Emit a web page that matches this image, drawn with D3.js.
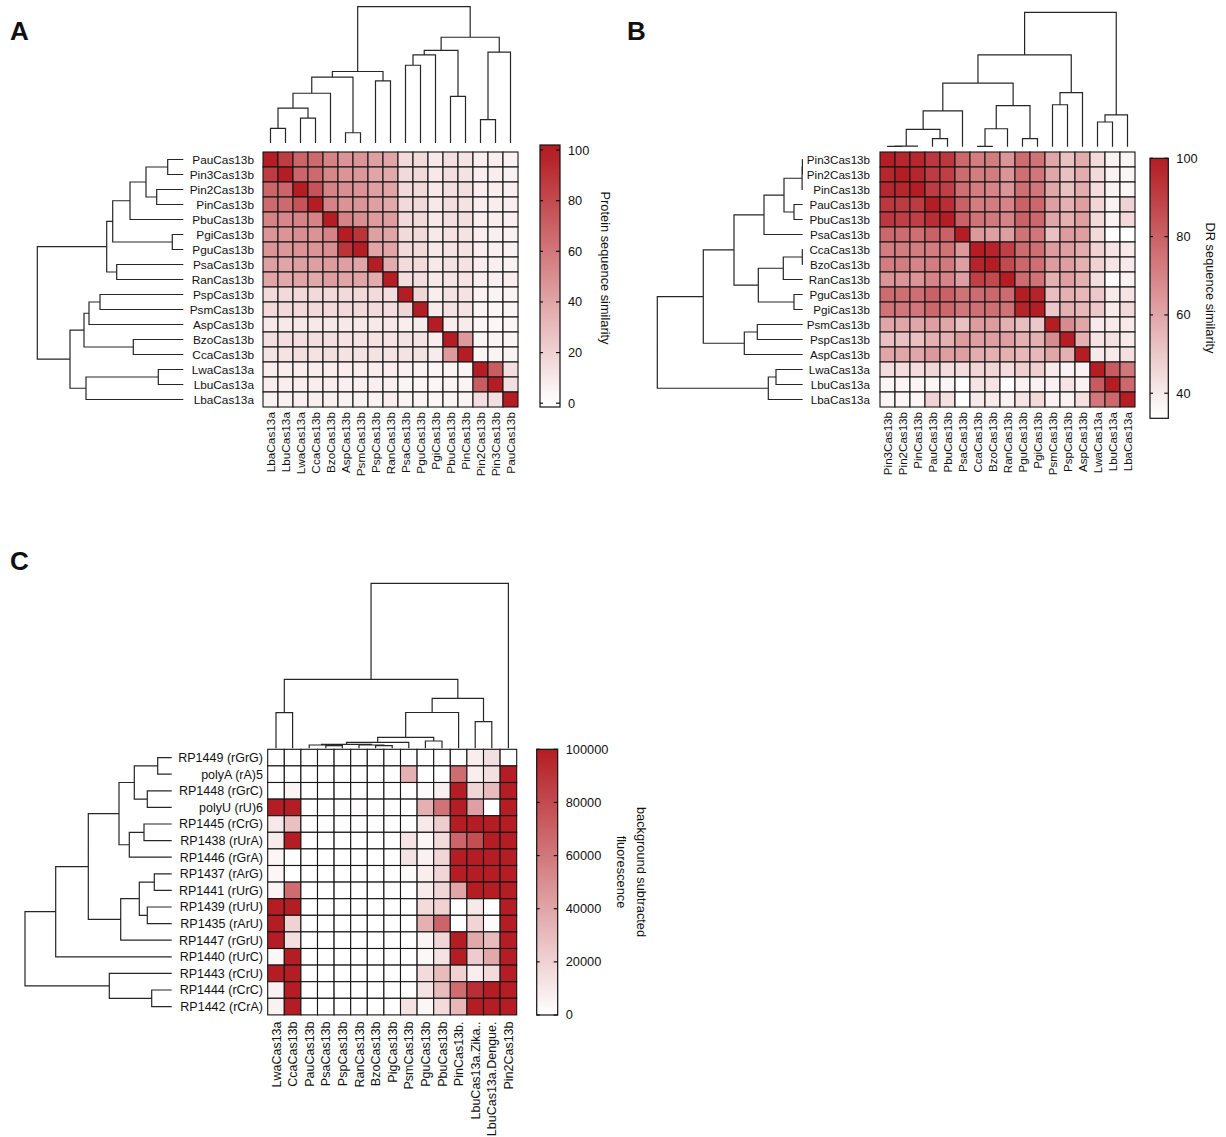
<!DOCTYPE html>
<html><head><meta charset="utf-8">
<script src="https://cdn.jsdelivr.net/npm/d3@7"></script>
<style>
body{margin:0;background:#fff}
text{font-family:"Liberation Sans",Arial,Helvetica,sans-serif;fill:#111}
</style>
</head><body>
<svg id="chart" width="1226" height="1137"></svg>
<script>
// ---------------- DATA ----------------
// Panel A
const rowsA = ["PauCas13b","Pin3Cas13b","Pin2Cas13b","PinCas13b","PbuCas13b","PgiCas13b","PguCas13b","PsaCas13b","RanCas13b","PspCas13b","PsmCas13b","AspCas13b","BzoCas13b","CcaCas13b","LwaCas13a","LbuCas13a","LbaCas13a"];
const colsA = ["LbaCas13a","LbuCas13a","LwaCas13a","CcaCas13b","BzoCas13b","AspCas13b","PsmCas13b","PspCas13b","RanCas13b","PsaCas13b","PguCas13b","PgiCas13b","PbuCas13b","PinCas13b","Pin2Cas13b","Pin3Cas13b","PauCas13b"];
const valuesA = [
 [100,86,68,66,55,47,47,42,40,17,17,10,14,13,8,8,6],
 [86,100,68,66,53,47,46,40,38,17,17,10,14,13,8,8,6],
 [68,68,100,76,55,50,48,42,40,17,17,10,14,14,8,8,7],
 [66,66,76,100,55,48,47,42,38,17,17,10,14,13,8,8,7],
 [55,53,55,55,100,55,50,44,43,17,17,10,14,14,8,8,7],
 [47,47,50,48,55,100,90,42,40,17,17,10,13,13,8,7,6],
 [47,46,48,47,50,90,100,40,40,17,17,10,13,13,8,7,6],
 [42,40,42,42,44,42,40,100,37,16,16,10,13,13,8,7,6],
 [40,38,40,38,43,40,40,37,100,15,15,10,12,12,8,7,8],
 [17,17,17,17,17,17,17,16,15,100,18,8,13,13,6,5,5],
 [17,17,17,17,17,17,17,16,15,18,100,9,13,13,5,4,5],
 [10,10,10,10,10,10,10,10,10,8,9,100,8,9,4,4,4],
 [14,14,14,14,14,13,13,13,12,13,13,8,100,45,5,5,5],
 [13,13,14,13,14,13,13,13,12,13,13,9,45,100,5,5,5],
 [8,8,8,8,8,8,8,8,8,6,5,4,5,5,100,72,15],
 [8,8,8,8,8,7,7,7,7,5,4,4,5,5,72,100,14],
 [6,6,7,7,7,6,6,6,8,5,5,4,5,5,15,14,100]
];
// hclust-style merges: negative = leaf (-1 is leaf 0), positive = earlier merge (1-based); third = height
const linkA = [
 [-1,-2,15.6],[-3,-4,26.6],[1,2,37.3],[3,-5,53.3],[-6,-7,11],[4,5,70.6],[-8,-9,66.6],[6,7,76.6],
 [-10,-11,83.3],[9,-12,94.3],[-13,-14,50],[10,11,99.3],[-15,-16,25],[13,-17,97.3],[12,14,113.3],[8,15,146]
];
const ticksA = [0,20,40,60,80,100];

// Panel B
const rowsB = ["Pin3Cas13b","Pin2Cas13b","PinCas13b","PauCas13b","PbuCas13b","PsaCas13b","CcaCas13b","BzoCas13b","RanCas13b","PguCas13b","PgiCas13b","PsmCas13b","PspCas13b","AspCas13b","LwaCas13a","LbuCas13a","LbaCas13a"];
const colsB = ["Pin3Cas13b","Pin2Cas13b","PinCas13b","PauCas13b","PbuCas13b","PsaCas13b","CcaCas13b","BzoCas13b","RanCas13b","PguCas13b","PgiCas13b","PsmCas13b","PspCas13b","AspCas13b","LwaCas13a","LbuCas13a","LbaCas13a"];
const valuesB = [
 [100,97,97,92,92,78,72,72,65,77,75,60,52,58,45,38,37],
 [97,100,97,91,90,77,72,72,65,76,74,60,52,58,45,38,37],
 [97,97,100,91,90,76,72,70,65,76,74,60,52,58,44,38,37],
 [92,91,91,100,95,80,72,72,70,80,78,62,57,62,46,38,47],
 [92,90,90,95,100,80,75,73,70,80,78,60,57,62,45,38,45],
 [78,77,76,80,80,100,64,62,62,75,74,52,63,62,45,34,34],
 [72,72,72,72,75,64,100,98,90,77,76,63,62,58,47,42,40],
 [72,72,70,72,73,62,98,100,87,78,76,63,62,57,47,42,40],
 [65,65,65,70,70,62,90,87,100,77,75,57,62,57,44,34,38],
 [77,76,76,80,80,75,77,78,77,100,98,53,57,55,50,40,42],
 [75,74,74,78,78,74,76,76,75,98,100,50,57,55,50,40,45],
 [60,60,60,62,60,52,63,63,57,53,50,100,68,60,40,40,40],
 [52,52,52,57,57,63,62,62,62,57,57,68,100,57,42,43,40],
 [60,60,60,64,62,62,58,57,57,55,55,60,57,100,40,40,43],
 [44,44,44,46,44,44,46,46,44,48,48,40,38,38,100,82,74],
 [37,37,37,37,37,34,42,42,34,38,38,38,42,38,82,100,78],
 [37,37,37,47,43,34,40,40,38,42,45,38,38,43,74,78,100]
];
const linkB = [
 [-1,-2,0.3],[1,-3,0.6],[-4,-5,8.7],[2,3,18.7],[4,-6,38.7],[-7,-8,0.4],[6,-9,19.4],[-10,-11,8.7],
 [7,8,44.4],[5,9,68.7],[-12,-13,45.4],[11,-14,58.4],[10,12,99.4],[-15,-16,26.7],[14,-17,34.4],[13,15,145.4]
];
const ticksB = [40,60,80,100];

// Panel C
const rowsC = ["RP1449 (rGrG)","polyA (rA)5","RP1448 (rGrC)","polyU (rU)6","RP1445 (rCrG)","RP1438 (rUrA)","RP1446 (rGrA)","RP1437 (rArG)","RP1441 (rUrG)","RP1439 (rUrU)","RP1435 (rArU)","RP1447 (rGrU)","RP1440 (rUrC)","RP1443 (rCrU)","RP1444 (rCrC)","RP1442 (rCrA)"];
const colsC = ["LwaCas13a","CcaCas13b","PauCas13b","PsaCas13b","PspCas13b","RanCas13b","BzoCas13b","PigCas13b","PsmCas13b","PguCas13b","PbuCas13b","PinCas13b.","LbuCas13a.Zika..","LbuCas13a.Dengue.","Pin2Cas13b"];
const valuesC = [
 [0,0,0,0,0,0,0,0,0,0,0,0,8000,14000,0],
 [0,0,0,0,0,0,0,0,35000,0,0,65000,8000,14000,100000],
 [0,5000,0,0,0,0,0,0,0,2000,7000,100000,18000,30000,100000],
 [100000,100000,1000,0,1000,1500,0,0,0,35000,62000,100000,42000,1000,100000],
 [10000,28000,0,0,0,0,0,0,0,10000,22000,100000,100000,100000,100000],
 [9000,100000,0,0,0,0,0,0,12000,4000,16000,68000,78000,100000,100000],
 [4000,1000,0,0,0,0,0,0,13000,6000,18000,100000,100000,100000,100000],
 [4000,0,0,0,0,0,0,0,2000,8000,18000,100000,100000,100000,100000],
 [5000,65000,0,0,0,0,0,0,0,9000,18000,40000,100000,100000,100000],
 [100000,100000,0,0,0,0,0,0,0,16000,20000,0,10000,0,100000],
 [100000,20000,1000,0,0,0,0,0,0,35000,68000,0,19000,2000,100000],
 [100000,14000,0,0,0,0,0,0,0,5000,18000,100000,38000,30000,100000],
 [4000,100000,0,0,0,0,0,0,0,3000,13000,100000,23000,38000,100000],
 [100000,100000,0,0,0,0,0,0,0,16000,30000,20000,8000,16000,100000],
 [6000,100000,0,0,0,0,0,0,0,13000,30000,65000,92000,100000,100000],
 [6000,100000,0,0,0,0,0,0,13000,4000,16000,32000,100000,100000,100000]
];
const linkCrows = [
 [-1,-2,14],[-3,-4,24.4],[1,2,37.4],[-5,-6,27.7],[4,-7,42.4],[3,5,52.7],[-8,-9,17.4],[-10,-11,24.4],
 [7,8,32.4],[9,-12,51],[6,10,83.4],[11,-13,116],[-15,-16,20],[-14,13,62.4],[12,14,146.7]
];
const linkCcols = [
 [-1,-2,35.6],[-4,-5,2.6],[-3,2,3.3],[-7,-8,2.6],[-6,4,3.3],[3,5,3.9],[6,-9,6],[-10,-11,7.3],
 [7,8,11],[9,-12,35.8],[-13,-14,26.6],[10,11,50],[1,12,69],[13,-15,165]
];
const ticksC = [0,20000,40000,60000,80000,100000];

// ---------------- DRAWING ----------------
const RED = "#b31d23";
const svg = d3.select("#chart");
const defs = svg.append("defs");

function heatmap(cfg){
  const g = svg.append("g");
  const x = d3.scaleBand().domain(d3.range(cfg.cols.length)).range([cfg.x, cfg.x + cfg.cw*cfg.cols.length]);
  const y = d3.scaleBand().domain(d3.range(cfg.rows.length)).range([cfg.y, cfg.y + cfg.ch*cfg.rows.length]);
  cfg.values.forEach((row,i)=>row.forEach((v,j)=>{
    g.append("rect").attr("x",x(j)).attr("y",y(i)).attr("width",x.bandwidth()).attr("height",y.bandwidth())
      .attr("fill",cfg.color(v)).attr("stroke","#151515").attr("stroke-width",1.1);
  }));
  g.selectAll(".rl").data(cfg.rows).join("text")
    .attr("x",cfg.rowLabelX).attr("y",(d,i)=>y(i)+y.bandwidth()/2).attr("dy","0.35em")
    .attr("text-anchor","end").attr("font-size",cfg.fs).text(d=>d);
  g.selectAll(".cl").data(cfg.cols).join("text")
    .attr("transform",(d,i)=>`translate(${x(i)+x.bandwidth()/2},${cfg.colLabelY}) rotate(-90)`)
    .attr("dy","0.36em").attr("text-anchor","end").attr("font-size",cfg.fs).text(d=>d);
  return {x,y};
}

function dendro(merge, leafScale, hScale, orient){
  const pos=[], ht=[]; let d="";
  const get = k => k<0 ? {p:-k-1,h:0} : {p:pos[k-1],h:ht[k-1]};
  const pt = (p,h)=> orient==="top" ? [leafScale(p),hScale(h)] : [hScale(h),leafScale(p)];
  merge.forEach(([a,b,h],i)=>{
    const A=get(a),B=get(b);
    pos[i]=(A.p+B.p)/2; ht[i]=h;
    const a0=pt(A.p,A.h),a1=pt(A.p,h),b1=pt(B.p,h),b0=pt(B.p,B.h);
    d+=`M${a0}L${a1}L${b1}L${b0}`;
  });
  svg.append("path").attr("d",d).attr("fill","none").attr("stroke","#262626").attr("stroke-width",1.2);
}

function colorbar(cfg){
  const id = "grad"+cfg.id;
  const grad = defs.append("linearGradient").attr("id",id).attr("x1",0).attr("y1",1).attr("x2",0).attr("y2",0);
  const [lo,hi] = cfg.domain;
  d3.range(0,1.0001,0.05).forEach(t=>{
    grad.append("stop").attr("offset",t).attr("stop-color",cfg.color(lo+(hi-lo)*t));
  });
  const ys = d3.scaleLinear().domain(cfg.domain).range([cfg.y0,cfg.y1]);
  const g = svg.append("g");
  g.append("rect").attr("x",cfg.x).attr("y",ys(hi)).attr("width",cfg.w).attr("height",ys(lo)-ys(hi))
    .attr("fill",`url(#${id})`).attr("stroke","#111").attr("stroke-width",1.2);
  cfg.ticks.forEach(t=>{
    g.append("line").attr("x1",cfg.x+cfg.w-4).attr("x2",cfg.x+cfg.w).attr("y1",ys(t)).attr("y2",ys(t)).attr("stroke","#111").attr("stroke-width",1.2);
    g.append("line").attr("x1",cfg.x).attr("x2",cfg.x+3).attr("y1",ys(t)).attr("y2",ys(t)).attr("stroke","#111").attr("stroke-width",1.2);
    g.append("text").attr("x",cfg.x+cfg.w+8).attr("y",ys(t)).attr("dy","0.35em").attr("font-size",12.8).text(t);
  });
  cfg.title.forEach((line,k)=>{
    g.append("text").attr("transform",`translate(${cfg.tx[k]},${cfg.ty}) rotate(90)`)
      .attr("text-anchor","middle").attr("dy","0.35em").attr("font-size",12.8).text(line);
  });
}

function leafLinear(start, cell, n){
  return d3.scaleLinear().domain([0,n-1]).range([start+cell/2, start+cell*(n-0.5)]);
}

// ---- Panel A ----
const colorA = d3.scaleLinear().domain([0,100]).range(["#ffffff",RED]).clamp(true);
heatmap({x:263,y:152,cw:15,ch:15,rows:rowsA,cols:colsA,values:valuesA,color:colorA,rowLabelX:254,colLabelY:412,fs:11.8});
dendro(linkA, leafLinear(263,15,17), d3.scaleLinear().domain([0,146]).range([143,6.7]), "top");
dendro(linkA, leafLinear(152,15,17), d3.scaleLinear().domain([0,146]).range([183.3,37.3]), "left");
colorbar({id:"A",x:540,w:20,y0:407,y1:145,domain:[-1.5,102],ticks:ticksA,color:colorA,title:["Protein sequence similarity"],tx:[605],ty:268});

// ---- Panel B ----
const colorB = d3.scaleLinear().domain([34,100]).range(["#ffffff",RED]).clamp(true);
heatmap({x:880,y:152,cw:15,ch:15,rows:rowsB,cols:colsB,values:valuesB,color:colorB,rowLabelX:870,colLabelY:412,fs:11.6});
dendro(linkB, leafLinear(880,15,17), d3.scaleLinear().domain([0,145.4]).range([146.7,12.3]), "top");
dendro(linkB, leafLinear(152,15,17), d3.scaleLinear().domain([0,145.4]).range([802.7,657.3]), "left");
colorbar({id:"B",x:1150,w:18.3,y0:418.3,y1:158.3,domain:[33.6,100],ticks:ticksB,color:colorB,title:["DR sequence similarity"],tx:[1210],ty:288});

// ---- Panel C ----
const colorC = d3.scaleLinear().domain([0,100000]).range(["#ffffff",RED]).clamp(true);
const cC = 249/15;
heatmap({x:267.7,y:749.3,cw:cC,ch:cC,rows:rowsC,cols:colsC,values:valuesC,color:colorC,rowLabelX:263,colLabelY:1021.5,fs:12.5});
dendro(linkCcols, leafLinear(267.7,cC,15), d3.scaleLinear().domain([0,165]).range([748.3,583.3]), "top");
dendro(linkCrows, leafLinear(749.3,cC,16), d3.scaleLinear().domain([0,146.7]).range([171.7,25]), "left");
colorbar({id:"C",x:536.7,w:21,y0:1015,y1:749.3,domain:[0,100000],ticks:ticksC,color:colorC,title:["background subtracted","fluorescence"],tx:[641,621],ty:872});

// panel letters
[["A",10,40],["B",627,40],["C",10,570]].forEach(([t,x,y])=>{
  svg.append("text").attr("x",x).attr("y",y).attr("font-size",26).attr("font-weight","bold").text(t);
});
</script>
</body></html>
